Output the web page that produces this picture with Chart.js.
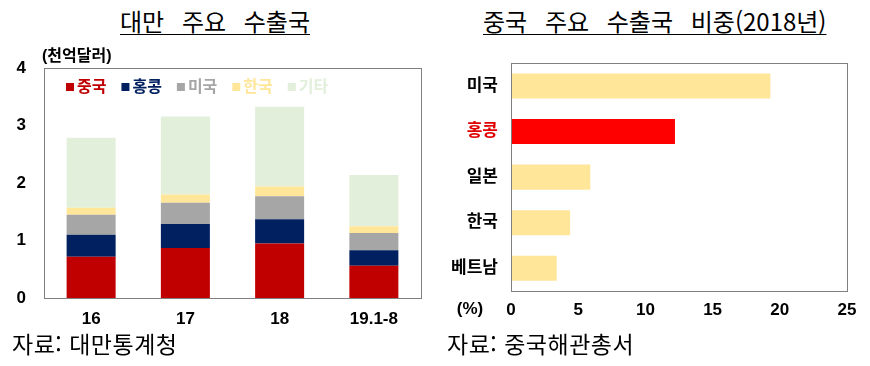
<!DOCTYPE html>
<html lang="ko">
<head>
<meta charset="UTF-8">
<title>대만 주요 수출국 / 중국 주요 수출국 비중</title>
<script src="https://cdn.jsdelivr.net/npm/chart.js"></script>
<style>
  body { margin: 0; width: 870px; height: 366px; background: #fff; position: relative; overflow: hidden;
         font-family: "Noto Sans CJK KR", "Noto Sans", sans-serif; }
  .title { position: absolute; top: 3px; font-size: 24px; text-decoration: underline; text-underline-offset: 3px;
           text-decoration-thickness: 1px; word-spacing: 11px; color: #000; white-space: nowrap; }
  .note { position: absolute; top: 326px; font-size: 23px; letter-spacing: 0.5px; color: #000; white-space: nowrap; }
  .box { position: absolute; top: 40px; width: 430px; height: 290px; }
</style>
</head>
<body>
<div class="title" style="left:120px">대만 주요 수출국</div>
<div class="title" style="left:483px">중국 주요 수출국 비중(2018년)</div>
<div class="box" style="left:0"><canvas id="twChart" width="430" height="290"></canvas></div>
<div class="box" style="left:440px"><canvas id="cnChart" width="430" height="290"></canvas></div>
<div class="note" style="left:12px">자료: 대만통계청</div>
<div class="note" style="left:447px">자료: 중국해관총서</div>
<script>
// 대만 주요 수출국 (천억달러)
const years = ['16', '17', '18', '19.1-8'];
const china = [0.72, 0.87, 0.95, 0.56];
const hongkong = [0.38, 0.42, 0.42, 0.27];
const usa = [0.35, 0.37, 0.40, 0.30];
const korea = [0.12, 0.14, 0.17, 0.12];
const others = [1.22, 1.36, 1.39, 0.89];

// 중국 주요 수출국 비중 2018 (%)
const cnPartners = ['미국', '홍콩', '일본', '한국', '베트남'];
const cnShare = [19.3, 12.2, 5.9, 4.4, 3.4];

const tickFont = { family: '"Liberation Sans", "Noto Sans CJK KR", sans-serif', size: 17, weight: 'bold' };

const boxPlugin = {
  id: 'box',
  afterDraw(chart) {
    const a = chart.chartArea, c = chart.ctx;
    c.save();
    c.strokeStyle = '#808080';
    c.lineWidth = 1;
    c.strokeRect(Math.round(a.left) + 0.5, Math.round(a.top) + 0.5, Math.round(a.right - a.left), Math.round(a.bottom - a.top));
    c.restore();
  }
};

// legend drawn inside plot area + unit label
const innerLegend = {
  id: 'innerLegend',
  afterDraw(chart) {
    const c = chart.ctx;
    c.save();
    c.font = 'bold 16px "Liberation Sans", "Noto Sans CJK KR", sans-serif';
    c.textBaseline = 'middle';
    let x = 66;
    const y = 47;
    chart.data.datasets.forEach(ds => {
      c.fillStyle = ds.backgroundColor;
      c.fillRect(x, y - 4, 8, 8);
      c.fillText(ds.label, x + 11, y + 1);
      x += 11 + c.measureText(ds.label).width + 15;
    });
    c.fillStyle = '#000';
    c.font = 'bold 16px "Liberation Sans", "Noto Sans CJK KR", sans-serif';
    c.textBaseline = 'alphabetic';
    c.fillText('(천억달러)', 42, 21);
    c.restore();
  }
};

new Chart(document.getElementById('twChart'), {
  type: 'bar',
  data: {
    labels: years,
    datasets: [
      { label: '중국', data: china, backgroundColor: '#C00000' },
      { label: '홍콩', data: hongkong, backgroundColor: '#002060' },
      { label: '미국', data: usa, backgroundColor: '#A6A6A6' },
      { label: '한국', data: korea, backgroundColor: '#FFE699' },
      { label: '기타', data: others, backgroundColor: '#E2EFDA' }
    ]
  },
  options: {
    responsive: false,
    animation: false,
    layout: { padding: { top: 26, right: 9, left: 0, bottom: 0 } },
    datasets: { bar: { categoryPercentage: 0.52, barPercentage: 1.0 } },
    plugins: { legend: { display: false }, tooltip: { enabled: false } },
    scales: {
      x: {
        stacked: true,
        grid: { display: false, drawTicks: false },
        border: { color: '#808080' },
        ticks: { color: '#000', font: tickFont, padding: 11 },
        afterFit: s => { s.height = 32; }
      },
      y: {
        stacked: true,
        min: 0, max: 4,
        grid: { display: false, drawTicks: false },
        border: { color: '#808080' },
        ticks: { stepSize: 1, color: '#000', font: tickFont, padding: 18 },
        afterFit: s => { s.width = 44; }
      }
    }
  },
  plugins: [boxPlugin, innerLegend]
});

const pctLabel = {
  id: 'pctLabel',
  afterDraw(chart) {
    const c = chart.ctx;
    c.save();
    c.fillStyle = '#000';
    c.font = tickFont.weight + ' ' + tickFont.size + 'px ' + tickFont.family;
    c.textAlign = 'center';
    c.textBaseline = 'middle';
    c.fillText('(%)', 30, chart.chartArea.bottom + 18);
    c.restore();
  }
};

new Chart(document.getElementById('cnChart'), {
  type: 'bar',
  data: {
    labels: cnPartners,
    datasets: [{
      data: cnShare,
      backgroundColor: cnPartners.map(p => p === '홍콩' ? '#FF0000' : '#FFE699')
    }]
  },
  options: {
    indexAxis: 'y',
    responsive: false,
    animation: false,
    layout: { padding: { top: 16, right: 23, left: 0, bottom: 0 } },
    datasets: { bar: { categoryPercentage: 0.55, barPercentage: 1.0 } },
    plugins: { legend: { display: false }, tooltip: { enabled: false } },
    scales: {
      x: {
        min: 0, max: 25,
        grid: { display: false, drawTicks: false },
        border: { color: '#808080' },
        ticks: { stepSize: 5, color: '#000', font: tickFont, padding: 9 },
        afterFit: s => { s.height = 39; }
      },
      y: {
        grid: { display: false, drawTicks: false },
        border: { color: '#808080' },
        ticks: {
          color: ctx => cnPartners[ctx.index] === '홍콩' ? '#E00000' : '#000',
          font: tickFont, padding: 13
        },
        afterFit: s => { s.width = 71; }
      }
    }
  },
  plugins: [boxPlugin, pctLabel]
});
</script>
</body>
</html>
